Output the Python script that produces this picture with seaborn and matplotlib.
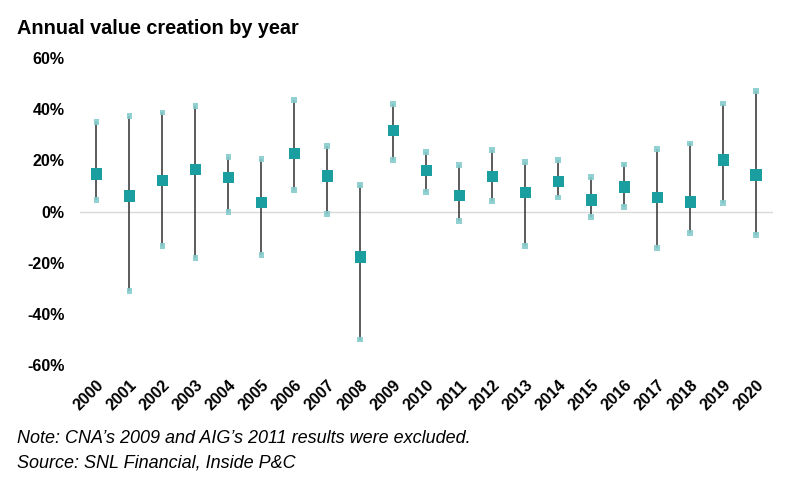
import pandas as pd
import numpy as np
import matplotlib.pyplot as plt
import seaborn as sns

# data (annual value creation, %)
years = [str(y) for y in range(2000, 2021)]
mean_vals = [14.7, 6.0, 12.2, 16.4, 13.3, 3.6, 22.7, 14.0, -17.7, 31.7, 16.0,
             6.3, 13.7, 7.4, 11.8, 4.4, 9.5, 5.5, 3.8, 20.2, 14.2]
high_vals = [34.9, 37.5, 38.7, 41.2, 21.4, 20.7, 43.5, 25.7, 10.2, 42.1, 23.1,
             18.1, 24.0, 19.5, 20.1, 13.4, 18.4, 24.5, 26.6, 42.2, 47.0]
low_vals = [4.4, -31.0, -13.4, -18.3, -0.1, -16.8, 8.5, -1.0, -50.0, 20.3, 7.6,
            -3.6, 4.2, -13.4, 5.5, -2.3, 1.7, -14.2, -8.5, 3.4, -9.1]

df = pd.DataFrame({'year': years, 'mean': mean_vals, 'high': high_vals, 'low': low_vals})
df['pos'] = np.arange(len(df))

sns.set_style('white')
plt.rcParams['font.family'] = ['Liberation Sans', 'DejaVu Sans']
plt.rcParams['text.color'] = 'black'
plt.rcParams['xtick.color'] = 'black'
plt.rcParams['ytick.color'] = 'black'

fig = plt.figure(figsize=(8, 4.83), dpi=100)
ax = fig.add_axes([0.1, 0.244, 0.866, 0.636])

teal = '#1a9e9f'
light = '#86cccc'

ax.axhline(0, color='#d9d9d9', lw=1, zorder=0)
ax.vlines(df['pos'], df['low'], df['high'], color='#3f3f3f', lw=1.2, zorder=1)

ends = pd.concat([df[['pos', 'low']].rename(columns={'low': 'v'}),
                  df[['pos', 'high']].rename(columns={'high': 'v'})])
sns.scatterplot(data=ends, x='pos', y='v', marker='s', s=18, color=light,
                edgecolor='none', alpha=0.9, ax=ax, zorder=2)
sns.scatterplot(data=df, x='pos', y='mean', marker='s', s=70, color=teal,
                edgecolor='none', ax=ax, zorder=3)

ax.set_xlim(-0.5, len(df) - 0.5)
ax.set_ylim(-60, 60)
ax.set_yticks(np.arange(-60, 61, 20))
ax.set_yticklabels([f'{v}%' for v in range(-60, 61, 20)], fontsize=11.5, fontweight='bold')
ax.set_xticks(df['pos'])
ax.set_xticklabels(df['year'], rotation=45, ha='right', rotation_mode='anchor',
                   fontsize=11.5, fontweight='bold')
ax.tick_params(axis='y', length=0, pad=11)
ax.tick_params(axis='x', length=0, pad=9)
ax.set_xlabel('')
ax.set_ylabel('')
sns.despine(ax=ax, left=True, bottom=True)

fig.text(0.021, 0.93, 'Annual value creation by year', fontsize=14.3,
         fontweight='bold', ha='left', va='baseline')
fig.text(0.021, 0.082, 'Note: CNA\u2019s 2009 and AIG\u2019s 2011 results were excluded.',
         fontsize=13, style='italic', ha='left', va='baseline')
fig.text(0.021, 0.033, 'Source: SNL Financial, Inside P&C',
         fontsize=13, style='italic', ha='left', va='baseline')

fig.savefig('out.png', dpi=100)
